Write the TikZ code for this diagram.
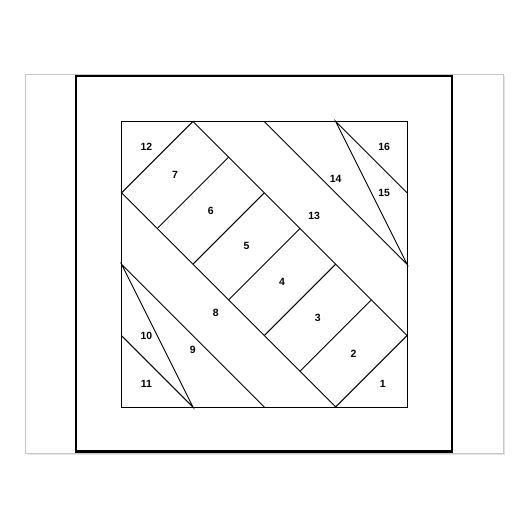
\documentclass[tikz,border=0pt]{standalone}
\usepackage{fontspec}
\setmainfont{Liberation Sans}

\begin{document}
\begin{tikzpicture}[x=1bp,y=1bp]
\tikzstyle{every node}+=[inner sep=0pt,font=\bfseries\fontsize{10.5}{11}\selectfont]
\tikzstyle{seam}=[black,line width=0.9bp]
\useasboundingbox (0,0) rectangle (530,530);
\fill [black!10] (27.5,74.5) rectangle (504.5,454);
\draw [black!22,fill=white,line width=0.8bp] (25.7,76.7) rectangle (503,455.7);
\draw [black,line width=2.6bp] (76,78.3) rectangle (452,454);
\begin{scope}[shift={(121.5,123)},x=71.375bp,y=71.375bp]
\draw [seam] (0,0) rectangle (4,4);
\draw [seam] (1,4) -- (0,3) -- (3,0) -- (4,1) -- cycle;
\draw [seam] (1.5,3.5) -- (0.5,2.5);
\draw [seam] (2,3) -- (1,2);
\draw [seam] (2.5,2.5) -- (1.5,1.5);
\draw [seam] (3,2) -- (2,1);
\draw [seam] (3.5,1.5) -- (2.5,0.5);
\draw [seam] (2,4) -- (4,2) -- (3,4) -- (4,3);
\draw [seam] (2,0) -- (0,2) -- (1,0) -- (0,1);
\node (p1) at (3.66,0.33) {1};
\node (p2) at (3.25,0.75) {2};
\node (p3) at (2.75,1.25) {3};
\node (p4) at (2.25,1.75) {4};
\node (p5) at (1.75,2.25) {5};
\node (p6) at (1.25,2.75) {6};
\node (p7) at (0.75,3.25) {7};
\node (p8) at (1.32,1.32) {8};
\node (p9) at (1.0,0.8) {9};
\node (p10) at (0.35,1.0) {10};
\node (p11) at (0.35,0.33) {11};
\node (p12) at (0.35,3.65) {12};
\node (p13) at (2.7,2.68) {13};
\node (p14) at (3.0,3.2) {14};
\node (p15) at (3.68,3.0) {15};
\node (p16) at (3.68,3.65) {16};
\end{scope}
\end{tikzpicture}
\end{document}
